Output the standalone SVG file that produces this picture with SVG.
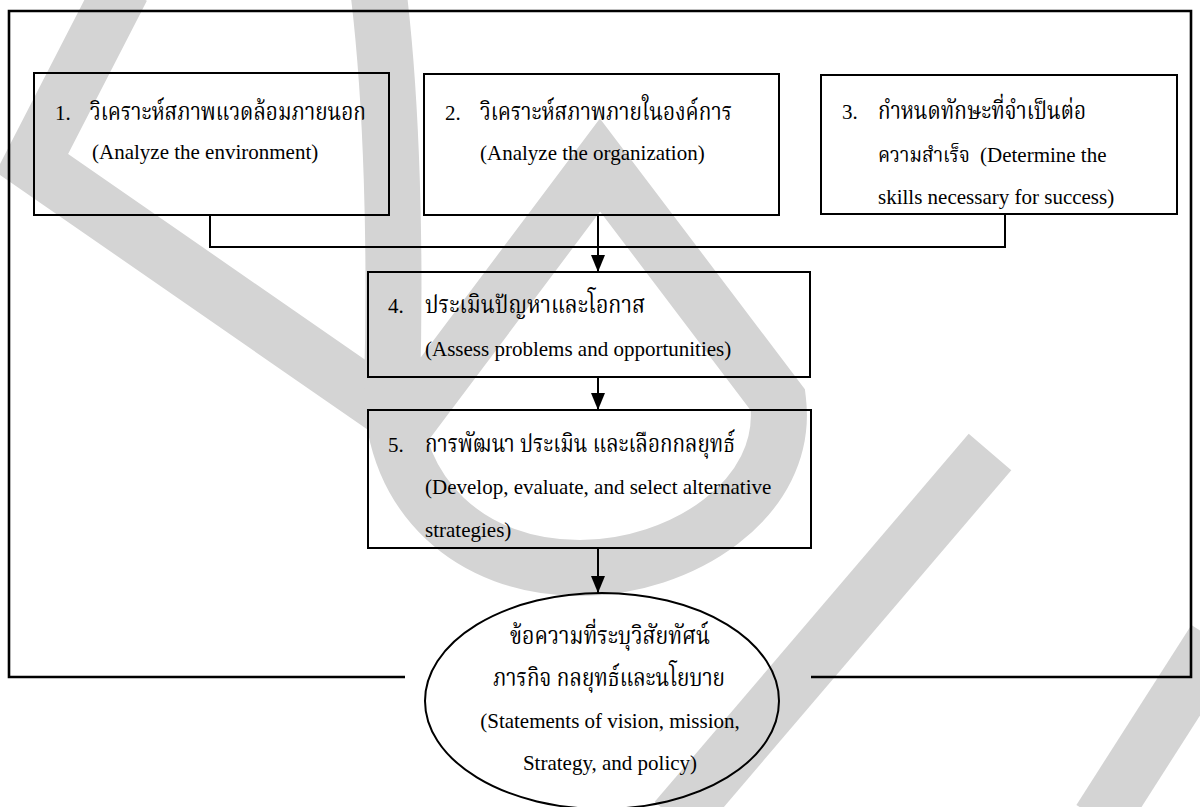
<svg xmlns="http://www.w3.org/2000/svg" width="1200" height="807" viewBox="0 0 1200 807">
<style>
.ln{fill:none;stroke:#000;stroke-width:2}
.frame{fill:none;stroke:#000;stroke-width:2.6}
.wm{fill:none;stroke:#d4d4d4;stroke-width:56;stroke-linejoin:miter;stroke-linecap:butt}
.en{font-family:"Liberation Serif","Times New Roman",serif;font-size:21px;fill:#000}
.th{font-family:"Norasi","Kinnari","Noto Serif Thai","Noto Sans Thai","Garuda","Loma","TlwgTypo","Liberation Serif",serif;font-size:24px;fill:#000}
.mid{text-anchor:middle}
</style>
<defs>
<marker id="ah" viewBox="0 0 17 14" refX="17" refY="7" markerWidth="17" markerHeight="14" markerUnits="userSpaceOnUse" orient="auto">
<path d="M0,0 L17,7 L0,14 Z" fill="#000"/>
</marker>
</defs>
<rect x="0" y="0" width="1200" height="807" fill="#fff"/>
<g id="watermark">
<path class="wm" d="M122,-12 L32,163 L400,418"/>
<path class="wm" d="M378,-12 C392,100 396,250 392,390 C392,495 470,568 580,568 C680,568 790,500 778,400 L600,165 L405,425"/>
<path class="wm" d="M676,820 L990,452"/>
<path class="wm" d="M1100,820 L1215,640"/>
</g>
<g id="frame">
<path class="frame" d="M405,677 H9 V11 H1191 V677 H811"/>
</g>
<g id="connectors">
<path class="ln" d="M210,215 V247 H1005 V214"/>
<path class="ln" d="M598,215 V272" marker-end="url(#ah)"/>
<path class="ln" d="M598,377 V410" marker-end="url(#ah)"/>
<path class="ln" d="M598,548 V593" marker-end="url(#ah)"/>
</g>
<g id="node1">
<rect class="ln" x="34" y="73" width="355" height="142"/>
<text class="en" x="55" y="120">1.</text>
<text class="th" x="90" y="120" textLength="276" lengthAdjust="spacingAndGlyphs">วิเคราะห์สภาพแวดล้อมภายนอก</text>
<text class="en" x="92" y="159">(Analyze the environment)</text>
</g>
<g id="node2">
<rect class="ln" x="424" y="74" width="355" height="141"/>
<text class="en" x="445" y="120">2.</text>
<text class="th" x="480" y="120" textLength="252" lengthAdjust="spacingAndGlyphs">วิเคราะห์สภาพภายในองค์การ</text>
<text class="en" x="480" y="160">(Analyze the organization)</text>
</g>
<g id="node3">
<rect class="ln" x="821" y="75" width="356" height="139"/>
<text class="en" x="842" y="119">3.</text>
<text class="th" x="878" y="119" textLength="208" lengthAdjust="spacingAndGlyphs">กำหนดทักษะที่จำเป็นต่อ</text>
<text class="en" x="878" y="162"><tspan class="th" style="font-size:21px" textLength="92" lengthAdjust="spacingAndGlyphs">ความสำเร็จ</tspan><tspan x="980">(Determine the</tspan></text>
<text class="en" x="878" y="204">skills necessary for success)</text>
</g>
<g id="node4">
<rect class="ln" x="368" y="272" width="442" height="105"/>
<text class="en" x="388" y="313">4.</text>
<text class="th" x="425" y="313" textLength="220" lengthAdjust="spacingAndGlyphs">ประเมินปัญหาและโอกาส</text>
<text class="en" x="425" y="356">(Assess problems and opportunities)</text>
</g>
<g id="node5">
<rect class="ln" x="368" y="410" width="443" height="138"/>
<text class="en" x="388" y="452">5.</text>
<text class="th" x="425" y="452" textLength="310" lengthAdjust="spacingAndGlyphs">การพัฒนา ประเมิน และเลือกกลยุทธ์</text>
<text class="en" x="425" y="494">(Develop, evaluate, and select alternative</text>
<text class="en" x="425" y="537">strategies)</text>
</g>
<g id="node6">
<ellipse class="ln" cx="602" cy="701" rx="177" ry="108"/>
<text class="th mid" x="610" y="644" textLength="200" lengthAdjust="spacingAndGlyphs">ข้อความที่ระบุวิสัยทัศน์</text>
<text class="th mid" x="609" y="686" textLength="232" lengthAdjust="spacingAndGlyphs">ภารกิจ กลยุทธ์และนโยบาย</text>
<text class="en mid" x="610" y="728">(Statements of vision, mission,</text>
<text class="en mid" x="610" y="770">Strategy, and policy)</text>
</g>
</svg>
